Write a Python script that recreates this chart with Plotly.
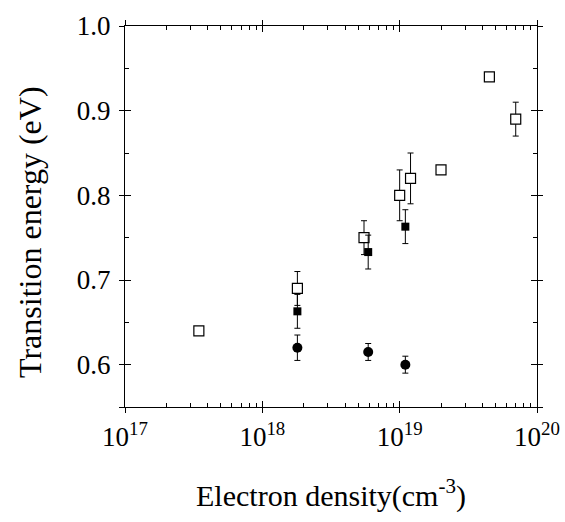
import plotly.graph_objects as go

# open squares (with error bars)
open_x = [1.8e18, 5.5e18, 1.0e19, 1.2e19, 7.0e19]
open_y = [0.69, 0.75, 0.80, 0.82, 0.89]
open_err = [0.02, 0.02, 0.03, 0.03, 0.02]

# open squares (no error bars)
open2_x = [3.45e17, 2.0e19, 4.5e19]
open2_y = [0.64, 0.83, 0.94]

# filled squares
sq_x = [1.8e18, 5.9e18, 1.1e19]
sq_y = [0.663, 0.733, 0.763]
sq_err = [0.02, 0.02, 0.02]

# filled circles
ci_x = [1.8e18, 5.9e18, 1.1e19]
ci_y = [0.62, 0.615, 0.60]
ci_err = [0.015, 0.01, 0.01]

x_ticks = [1e17, 1e18, 1e19, 1e20]
x_ticktext = ["10<sup>17</sup>", "10<sup>18</sup>", "10<sup>19</sup>", "10<sup>20</sup>"]
y_ticks = [0.6, 0.7, 0.8, 0.9, 1.0]
y_ticktext = ["0.6", "0.7", "0.8", "0.9", "1.0"]

FONT = "Liberation Serif, Times New Roman, serif"

def errs(e):
    return dict(type="data", array=e, visible=True, color="black",
                thickness=1, width=3)

open_marker = dict(symbol="square", size=10, color="white",
                   line=dict(width=1.2, color="black"))

fig = go.Figure()
fig.add_trace(go.Scatter(x=open_x, y=open_y, mode="markers", error_y=errs(open_err),
                         marker=open_marker))
fig.add_trace(go.Scatter(x=open2_x, y=open2_y, mode="markers", marker=open_marker))
fig.add_trace(go.Scatter(x=sq_x, y=sq_y, mode="markers", error_y=errs(sq_err),
                         marker=dict(symbol="square", size=8, color="black")))
fig.add_trace(go.Scatter(x=ci_x, y=ci_y, mode="markers", error_y=errs(ci_err),
                         marker=dict(symbol="circle", size=10, color="black")))

xr = [17, 20]
yr = [0.55, 1.0]
fig.update_layout(
    width=565, height=522,
    margin=dict(l=125, r=28, t=26, b=115),
    paper_bgcolor="white", plot_bgcolor="white",
    showlegend=False,
    font=dict(family=FONT, size=27, color="black"),
    xaxis=dict(type="log", range=xr, showgrid=False, zeroline=False, automargin=False,
               showline=True, linecolor="black", linewidth=1, mirror="allticks",
               ticks="inside", ticklen=6, tickcolor="black",
               tickvals=x_ticks, ticktext=x_ticktext, ticklabelstandoff=6,
               tickfont=dict(size=27),
               minor=dict(ticks="inside", ticklen=4, tickcolor="black",
                          dtick="D1", showgrid=False),
               title=dict(text="Electron density(cm<sup>-3</sup>)", standoff=33,
                          font=dict(size=30))),
    yaxis=dict(range=yr, showgrid=False, zeroline=False, automargin=False,
               showline=True, linecolor="black", linewidth=1, mirror="allticks",
               ticks="inside", ticklen=6, tickcolor="black",
               tickvals=y_ticks, ticktext=y_ticktext, ticklabelstandoff=8,
               tickfont=dict(size=27),
               minor=dict(ticks="inside", ticklen=4, tickcolor="black",
                          tickvals=[0.55, 0.65, 0.75, 0.85, 0.95], showgrid=False)),
    # second set of axes: outer part of the crossing major ticks
    xaxis2=dict(type="log", range=xr, overlaying="x", showgrid=False, zeroline=False,
                showline=False, mirror="allticks", ticks="outside", ticklen=5,
                tickcolor="black", tickvals=x_ticks, showticklabels=False),
    yaxis2=dict(range=yr, overlaying="y", showgrid=False, zeroline=False,
                showline=False, mirror="allticks", ticks="outside", ticklen=5,
                tickcolor="black", tickvals=y_ticks + [0.55], showticklabels=False),
)
# y title sits a bit below the plot centre in the original
fig.add_annotation(text="Transition energy (eV)", textangle=-90, showarrow=False,
                   xref="paper", yref="paper", x=-0.23, y=0.46,
                   xanchor="center", yanchor="middle", font=dict(size=32))
# invisible trace to pull in the second axes
fig.add_trace(go.Scatter(x=[1e18], y=[0.7], xaxis="x2", yaxis="y2", mode="markers",
                         marker=dict(opacity=0), hoverinfo="skip"))

fig.write_html("out.html", config={"displayModeBar": False},
               post_script="document.body.style.margin='0';")
